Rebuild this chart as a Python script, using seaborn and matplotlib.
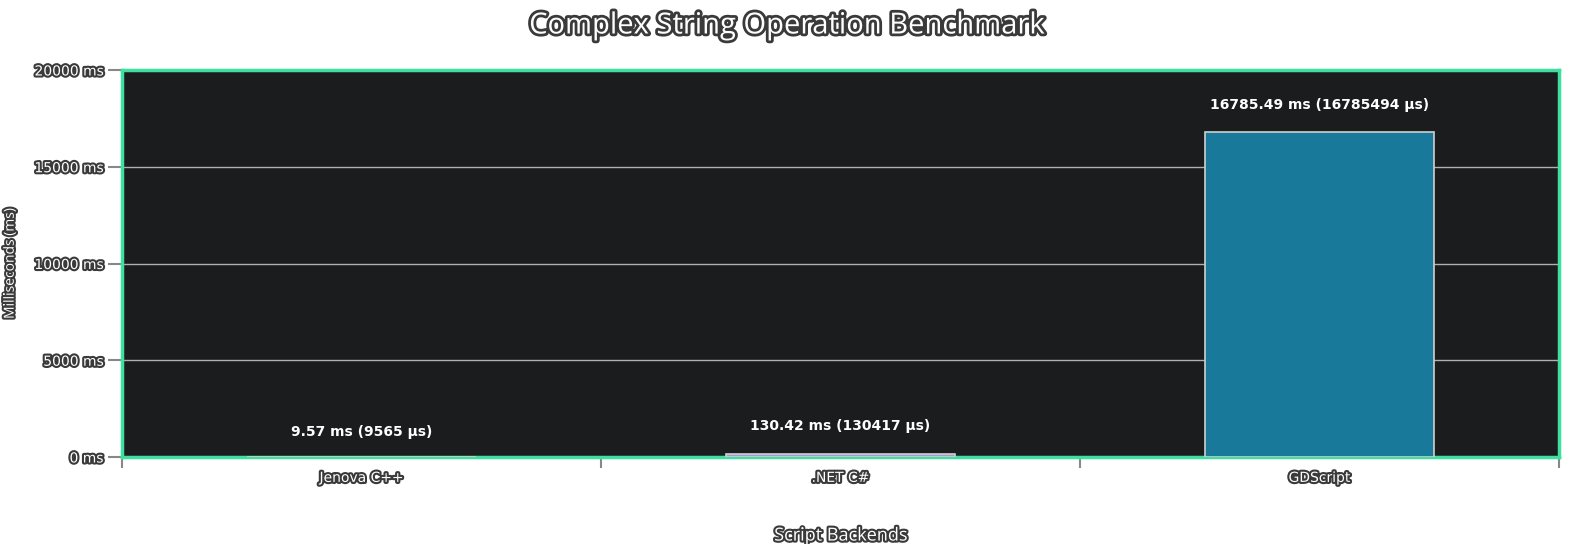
import matplotlib
matplotlib.use("Agg")
import matplotlib.pyplot as plt
import matplotlib.patheffects as pe
import seaborn as sns
import pandas as pd

categories = ["Jenova C++", ".NET C#", "GDScript"]
values_ms = [9.57, 130.42, 16785.49]
values_us = [9565, 130417, 16785494]
colors = ["#5aa9e6", "#9b8fe0", "#0284b0"]
yticks = [0, 5000, 10000, 15000, 20000]

W, H = 1574, 544
fig = plt.figure(figsize=(W/100, H/100), dpi=100, facecolor="white")
ax = fig.add_axes([122/W, 1-457/H, (1559-122)/W, (457-70)/H])
ax.set_facecolor("#1b1c1d")
shadow = [pe.withStroke(linewidth=3, foreground="#3a3a3a")]

df = pd.DataFrame({"cat": categories, "ms": values_ms})
sns.barplot(data=df, x="cat", y="ms", hue="cat", palette=colors, legend=False,
            width=0.48, edgecolor="#cfcfcf", linewidth=1.2, ax=ax, zorder=3)
ax.set_ylim(0, 20000)
ax.set_xlim(-0.5, 2.5)
ax.set_yticks(yticks)
ax.set_yticklabels([f"{v} ms" for v in yticks])
ax.yaxis.grid(True, color="#b0b0b0", linewidth=1, zorder=0)
ax.set_axisbelow(True)
for s in ax.spines.values():
    s.set_color("#3ee0a0"); s.set_linewidth(2.5)
ax.tick_params(axis="x", which="major", length=0, pad=10)
ax.set_xticks([-0.5, 0.5, 1.5, 2.5], minor=True)
ax.tick_params(axis="x", which="minor", length=8, width=1.5, color="#888888")
ax.tick_params(axis="y", length=10, width=1.5, color="#888888")
for lab in ax.get_xticklabels() + ax.get_yticklabels():
    lab.set_color("white"); lab.set_fontsize(10); lab.set_fontfamily("Liberation Sans Narrow")
    lab.set_path_effects(shadow)

for i, (ms, us) in enumerate(zip(values_ms, values_us)):
    t = ax.text(i, max(ms, 0) + 1400 if ms > 1000 else 1300 if ms < 50 else 1600,
                f"{ms:.2f} ms ({us} µs)", ha="center", va="center", color="white",
                fontsize=10, fontweight="bold", fontfamily="Liberation Sans Narrow", zorder=5)

ax.set_xlabel("Script Backends", color="white", fontsize=13, labelpad=30,
              path_effects=shadow, fontfamily="Open Sans")
ax.set_ylabel("Milliseconds (ms)", color="white", fontsize=10, labelpad=12,
              path_effects=shadow, fontfamily="Open Sans")
fig.text(0.5, 1-26/H, "Complex String Operation Benchmark", ha="center", va="center",
         color="white", fontsize=21, fontfamily="Open Sans",
         path_effects=[pe.withStroke(linewidth=4, foreground="#3a3a3a")])
fig.savefig("out.png", dpi=100, facecolor="white")
